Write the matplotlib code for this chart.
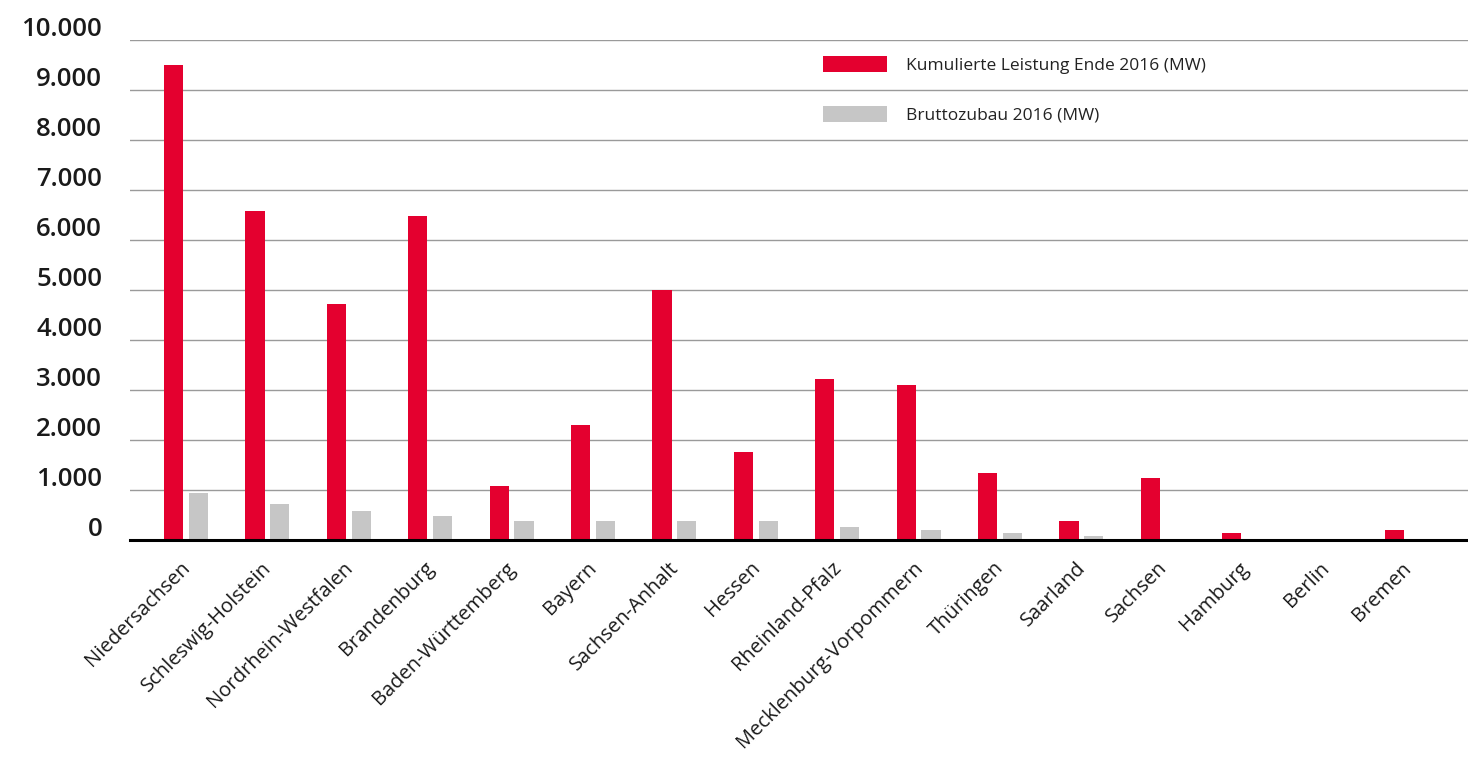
import matplotlib
matplotlib.use("Agg")
import matplotlib.pyplot as plt
import matplotlib.transforms as mtransforms
from matplotlib.patches import Patch
import numpy as np

# ---- data ----
states = ["Niedersachsen", "Schleswig-Holstein", "Nordrhein-Westfalen", "Brandenburg",
          "Baden-Württemberg", "Bayern", "Sachsen-Anhalt", "Hessen", "Rheinland-Pfalz",
          "Mecklenburg-Vorpommern", "Thüringen", "Saarland", "Sachsen", "Hamburg",
          "Berlin", "Bremen"]
cumulative = [9490, 6575, 4715, 6475, 1080, 2300, 4995, 1760, 3220,
              3100, 1335, 375, 1235, 130, 5, 190]
additions = [935, 715, 570, 470, 370, 370, 370, 370, 250,
             190, 130, 70, 5, 0, 0, 0]
yticks = [0, 1000, 2000, 3000, 4000, 5000, 6000, 7000, 8000, 9000, 10000]
ytick_labels = ["0", "1.000", "2.000", "3.000", "4.000", "5.000",
                "6.000", "7.000", "8.000", "9.000", "10.000"]
legend_labels = ["Kumulierte Leistung Ende 2016 (MW)", "Bruttozubau 2016 (MW)"]

RED = "#E4002F"
GREY = "#C6C6C6"

W, H = 1468, 758
fig = plt.figure(figsize=(W / 100, H / 100), dpi=100)
plt.rcParams['font.family'] = ['Open Sans', 'DejaVu Sans']

ax_left, ax_right, ax_top, ax_bottom = 130, 1468, 39.5, 540
ax = fig.add_axes([ax_left / W, 1 - ax_bottom / H, (ax_right - ax_left) / W, (ax_bottom - ax_top) / H])

x = np.arange(len(states))
bw = 0.235
off = 0.152
ax.bar(x - off, cumulative, width=bw, color=RED, zorder=3)
ax.bar(x + off, additions, width=bw, color=GREY, zorder=3)

ax.set_xlim(-0.688, 15.75)
ax.set_ylim(0, 10000)

ax.set_yticks(yticks)
ax.set_yticklabels(ytick_labels, fontsize=18.5, fontweight=600, color="#1a1a1a")
ax.tick_params(axis='y', length=0, pad=20)
for lab in ax.get_yticklabels():
    lab.set_va('center')
    lab.set_transform(lab.get_transform() + mtransforms.ScaledTranslation(0, 10 / 100, fig.dpi_scale_trans))

ax.set_xticks(x)
ax.set_xticklabels(states, rotation=45, ha='right', rotation_mode='anchor',
                   fontsize=14.5, color="#1a1a1a")
ax.tick_params(axis='x', length=0, pad=13)
for lab in ax.get_xticklabels():
    lab.set_transform(lab.get_transform() + mtransforms.ScaledTranslation(-6 / 100, 0, fig.dpi_scale_trans))

ax.yaxis.grid(True, color="#9a9a9a", linewidth=1.0, zorder=0)
ax.xaxis.grid(False)
for s in ["top", "right", "left"]:
    ax.spines[s].set_visible(False)
ax.spines["bottom"].set_linewidth(2.2)
ax.spines["bottom"].set_color("black")
ax.spines["bottom"].set_zorder(4)

handles = [Patch(facecolor=RED, edgecolor='none'), Patch(facecolor=GREY, edgecolor='none')]
fs = 12.5
px = fs * 100 / 72
leg = fig.legend(handles, legend_labels, loc='upper left',
                 bbox_to_anchor=(823 / W, 1 - 56 / H), frameon=False,
                 fontsize=fs, handlelength=64 / px, handleheight=18 / px,
                 handletextpad=19 / px, labelspacing=32 / px, borderpad=0,
                 borderaxespad=0)
for t in leg.get_texts():
    t.set_color("#222222")

fig.savefig("out.png", dpi=100)
